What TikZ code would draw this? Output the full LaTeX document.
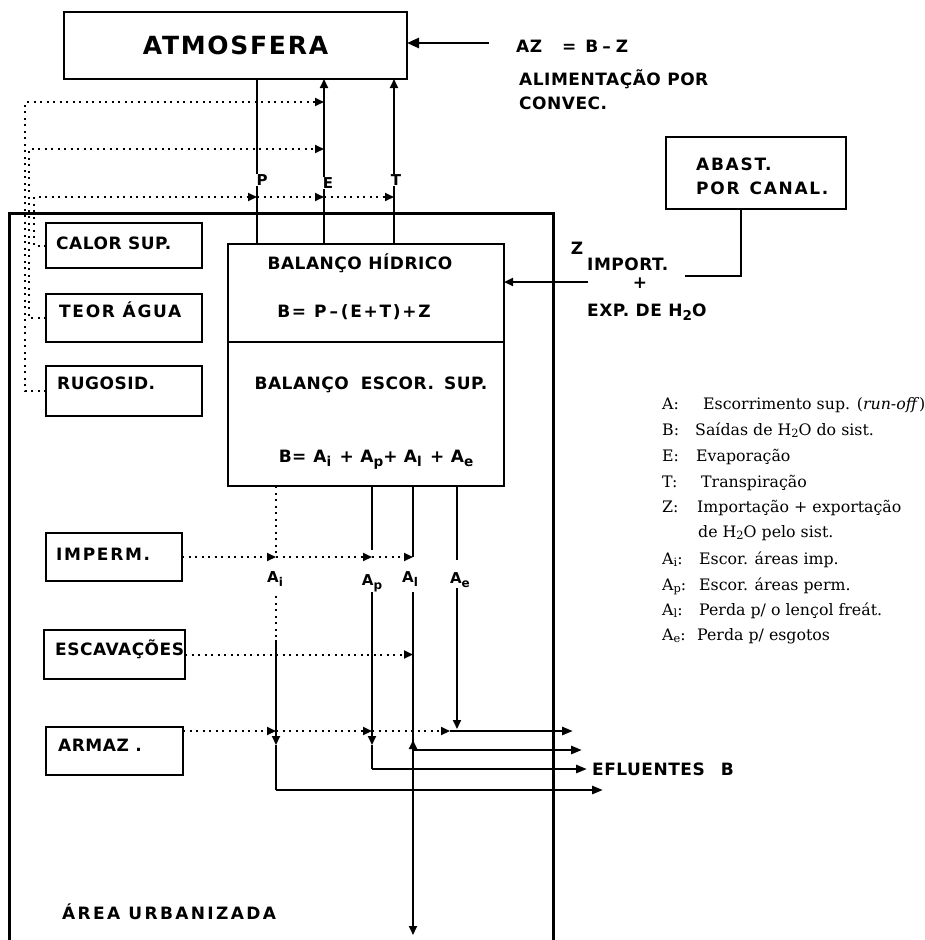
\documentclass[tikz,border=0pt]{standalone}
\usepackage{fontspec}
\setmainfont{DejaVu Serif}
\newfontfamily\lettering[LetterSpace=3]{DejaVu Sans}
\newfontfamily\legfont{DejaVu Serif}
\usetikzlibrary{arrows.meta}
\newcommand\lsub[1]{\raisebox{-0.45ex}{\scalebox{0.8}{#1}}}
\newcommand\ssub[1]{\raisebox{-0.25ex}{\scalebox{0.72}{#1}}}
\begin{document}
\begin{tikzpicture}[x=1pt,y=-1pt,
  box/.style={draw, line width=2.4pt, inner sep=0pt, outer sep=0pt, anchor=north west},
  lt/.style={font=\lettering\bfseries\fontsize{17}{17}\selectfont, inner sep=0pt, text height=12.4pt, text depth=0pt},
  ltw/.style={lt, font=\lettering\bfseries\fontsize{17}{17}\selectfont\addfontfeatures{LetterSpace=10}},
  ltww/.style={lt, font=\lettering\bfseries\fontsize{17}{17}\selectfont\addfontfeatures{LetterSpace=14}},
  lts/.style={font=\lettering\bfseries\fontsize{15}{15}\selectfont, inner sep=0pt, text height=11pt, text depth=0pt},
  ltbig/.style={font=\lettering\bfseries\fontsize{25}{25}\selectfont\addfontfeatures{LetterSpace=7}, text height=18.2pt, text depth=0pt},
  leg/.style={font=\legfont\fontsize{15.8}{15.8}\selectfont, inner sep=0pt, text height=11.5pt, text depth=0pt, anchor=west},
  flow/.style={line width=1.8pt},
  dotl/.style={line width=2pt, dash pattern=on 2pt off 4.5pt},
  tipend/.style={-{Triangle[length=9pt,width=8pt]}},
  eff/.style={line width=2.6pt, -{Triangle[length=11pt,width=8pt]}}
]
\useasboundingbox (0,0) rectangle (925,940);
\fill[white] (0,0) rectangle (925,940);

% ---------- ATMOSFERA ----------
\node[box, ltbig, line width=2.8pt, minimum width=343pt, minimum height=67pt] (atm) at (64,12) {ATMOSFERA};
\coordinate (azsrc) at (489,43);
\draw[line width=2.6pt, -{Triangle[length=12pt,width=10pt]}] (azsrc) -- (azsrc -| atm.east);
\node[lt, anchor=west] (az) at (516,46) {AZ\hspace{20pt}=\hspace{9pt}B\hspace{4pt}–\hspace{5pt}Z};
\node[lt, anchor=west] (alim) at (519,79) {ALIMENTAÇÃO POR};
\node[lt, anchor=west] (conv) at (519,103) {CONVEC.};

% ---------- urban area frame ----------
\coordinate (ubl) at (9,940);
\coordinate (utl) at (9,213);
\coordinate (utr) at (553,213);
\coordinate (ubr) at (553,940);
\draw[line width=3pt] (ubl) -- (utl) -- (utr) -- (ubr);

% ---------- water balance boxes ----------
\node[box, minimum width=276pt, minimum height=98pt] (hid) at (228,244) {};
\node[box, minimum width=276pt, minimum height=144pt] (esc) at (228,342) {};
\node[lt] (hidT) at (360,263) {BALANÇO HÍDRICO};
\node[ltw] (hidF) at (354,311) {B=\hspace{8pt}P\,–\,(E+T)+Z};
\node[lt] (escT) at (371,383) {BALANÇO\hspace{12pt}ESCOR.\hspace{10pt}SUP.};
\node[lt] (escF) at (376,456) {B=\hspace{7pt}A\lsub{i}\hspace{2pt} + A\lsub{p}+ A\lsub{l}\hspace{2pt} + A\lsub{e}};

% ---------- P, E, T ----------
\coordinate (Px) at (257,0);
\coordinate (Ex) at (324,0);
\coordinate (Tx) at (394,0);
\node[lts] (Pl) at (262,180) {P};
\node[lts] (El) at (328,183) {E};
\node[lts] (Tl) at (396,180) {T};
\draw[flow] (atm.south -| Px) -- (Pl.north -| Px);
\draw[flow] (Pl.south -| Px) -- (hid.north -| Px);
\draw[flow, tipend] (El.north -| Ex) -- (atm.south -| Ex);
\draw[flow] (hid.north -| Ex) -- (El.south -| Ex);
\draw[flow, tipend] (Tl.north -| Tx) -- (atm.south -| Tx);
\draw[flow] (hid.north -| Tx) -- (Tl.south -| Tx);

% ---------- left factor boxes ----------
\node[box, minimum width=156pt, minimum height=45pt] (calor) at (46,223) {};
\node[lt, anchor=west] (calorT) at (56,243) {CALOR SUP.};
\node[box, minimum width=156pt, minimum height=48pt] (teor) at (46,294) {};
\node[ltw, anchor=west] (teorT) at (59,311) {TEOR ÁGUA};
\node[box, minimum width=156pt, minimum height=50pt] (rug) at (46,366) {};
\node[lt, anchor=west] (rugT) at (57,383) {RUGOSID.};
\node[box, minimum width=136pt, minimum height=48pt] (imp) at (46,533) {};
\node[ltw, anchor=west] (impT) at (56,554) {IMPERM.};
\node[box, minimum width=141pt, minimum height=49pt] (esca) at (44,630) {};
\node[lt, anchor=west] (escaT) at (55,649) {ESCAVAÇÕES};
\node[box, minimum width=137pt, minimum height=48pt] (arm) at (46,727) {};
\node[lt, anchor=west] (armT) at (58,745) {ARMAZ .};

% ---------- dotted influences on P, E, T ----------
\coordinate (v1t) at (25,102);
\coordinate (v2t) at (29,149);
\coordinate (v3t) at (34,197);
\draw[dotl, tipend] (rug.west) -- (rug.west -| v1t) -- (v1t) -- (v1t -| Ex);
\draw[dotl, tipend] (teor.west) -- (teor.west -| v2t) -- (v2t) -- (v2t -| Ex);
\draw[dotl, tipend] (calor.west) -- (calor.west -| v3t) -- (v3t) -- (v3t -| Px);
\draw[dotl, tipend] (v3t -| Px) -- (v3t -| Ex);
\draw[dotl, tipend] (v3t -| Ex) -- (v3t -| Tx);

% ---------- import / export ----------
\node[box, minimum width=180pt, minimum height=72pt] (abast) at (666,137) {};
\node[ltw, anchor=west] (abT1) at (696,164) {ABAST.};
\node[ltw, anchor=west] (abT2) at (696,188) {POR\hspace{10pt}CANAL.};
\coordinate (zc) at (741,276);
\coordinate (zend) at (685,276);
\draw[flow] (abast.south -| zc) -- (zc) -- (zend);
\node[lt] (zZ) at (577,248) {Z};
\node[lt, anchor=west] (zimp) at (587,264) {IMPORT.};
\node[lt] (zplus) at (640,282) {+};
\node[lt, anchor=west] (zexp) at (587,310) {EXP. DE H\lsub{2}O};
\coordinate (zsrc) at (588,282);
\draw[line width=2.2pt, tipend] (zsrc) -- (zsrc -| hid.east);

% ---------- runoff components ----------
\coordinate (Aix) at (276,0);
\coordinate (Apx) at (372,0);
\coordinate (Alx) at (413,0);
\coordinate (Aex) at (457,0);
\node[lts] (Ail) at (275,577) {A\lsub{i}};
\node[lts] (Apl) at (372,580) {A\lsub{p}};
\node[lts] (All) at (410,577) {A\lsub{l}};
\node[lts] (Ael) at (460,578) {A\lsub{e}};
\coordinate (armOut) at (183,731);

% Ai
\coordinate (aiA) at (276,596);
\coordinate (aiB) at (276,640);
\coordinate (aiC) at (276,745);
\coordinate (aiD) at (276,790);
\coordinate (aiE) at (603,790);
\draw[dotl] (esc.south -| Aix) -- (imp.east -| Aix);
\draw[dotl] (aiA) -- (aiB);
\draw[flow, tipend] (aiB) -- (aiC);
\draw[flow] (aiC) -- (aiD);
\draw[eff] (aiD) -- (aiE);

% Ap
\coordinate (apA) at (372,550);
\coordinate (apB) at (372,592);
\coordinate (apC) at (372,745);
\coordinate (apD) at (372,769);
\coordinate (apE) at (587,769);
\draw[flow] (esc.south -| Apx) -- (apA);
\draw[flow, tipend] (apB) -- (apC);
\draw[flow] (apC) -- (apD);
\draw[eff] (apD) -- (apE);

% Al
\coordinate (alB) at (413,592);
\coordinate (alD) at (413,750);
\coordinate (alU) at (413,740);
\coordinate (alE) at (582,750);
\coordinate (alZ) at (413,935);
\draw[flow] (esc.south -| Alx) -- (imp.east -| Alx);
\draw[flow, tipend] (alB) -- (alZ);
\draw[flow, tipend] (alD) -- (alU);
\draw[eff] (alD) -- (alE);

% Ae
\coordinate (aeA) at (457,560);
\coordinate (aeB) at (457,588);
\coordinate (aeC) at (457,729);
\coordinate (aeD) at (450,731);
\coordinate (aeE) at (573,731);
\draw[flow] (esc.south -| Aex) -- (aeA);
\draw[flow, tipend] (aeB) -- (aeC);
\draw[eff] (aeD) -- (aeE);

% dotted influences on runoff
\draw[dotl, tipend] (imp.east) -- (imp.east -| Aix);
\draw[dotl, tipend] (imp.east -| Aix) -- (imp.east -| Apx);
\draw[dotl, tipend] (imp.east -| Apx) -- (imp.east -| Alx);
\draw[dotl, tipend] (esca.east) -- (esca.east -| Alx);
\draw[dotl, tipend] (armOut) -- (armOut -| Aix);
\draw[dotl, tipend] (armOut -| Aix) -- (armOut -| Apx);
\draw[dotl, tipend] (armOut -| Apx) -- (aeD);

\node[lt, anchor=west] (efl) at (592,769) {EFLUENTES\hspace{16pt}B};
\node[ltww, anchor=west] (area) at (62,913) {ÁREA\hspace{8pt}URBANIZADA};

% ---------- legend ----------
\node[leg] (lgA)  at (662,404) {A:};
\node[leg] (lgAd) at (703,404) {Escorrimento sup. (\textit{run-off})};
\node[leg] (lgB)  at (662,430) {B:};
\node[leg] (lgBd) at (695,430) {Saídas de H\ssub{2}O do sist.};
\node[leg] (lgE)  at (662,456) {E:};
\node[leg] (lgEd) at (696,456) {Evaporação};
\node[leg] (lgT)  at (662,482) {T:};
\node[leg] (lgTd) at (701,482) {Transpiração};
\node[leg] (lgZ)  at (662,507) {Z:};
\node[leg] (lgZd) at (697,507) {Importação + exportação};
\node[leg] (lgZe) at (698,532) {de H\ssub{2}O pelo sist.};
\node[leg] (lgAi) at (662,559) {A\ssub{i}:};
\node[leg] (lgAid) at (699,559) {Escor. áreas imp.};
\node[leg] (lgAp) at (662,585) {A\ssub{p}:};
\node[leg] (lgApd) at (699,585) {Escor. áreas perm.};
\node[leg] (lgAl) at (662,610) {A\ssub{l}:};
\node[leg] (lgAld) at (699,610) {Perda p/ o lençol freát.};
\node[leg] (lgAe) at (662,635) {A\ssub{e}:};
\node[leg] (lgAed) at (697,635) {Perda p/ esgotos};
\end{tikzpicture}
\end{document}
